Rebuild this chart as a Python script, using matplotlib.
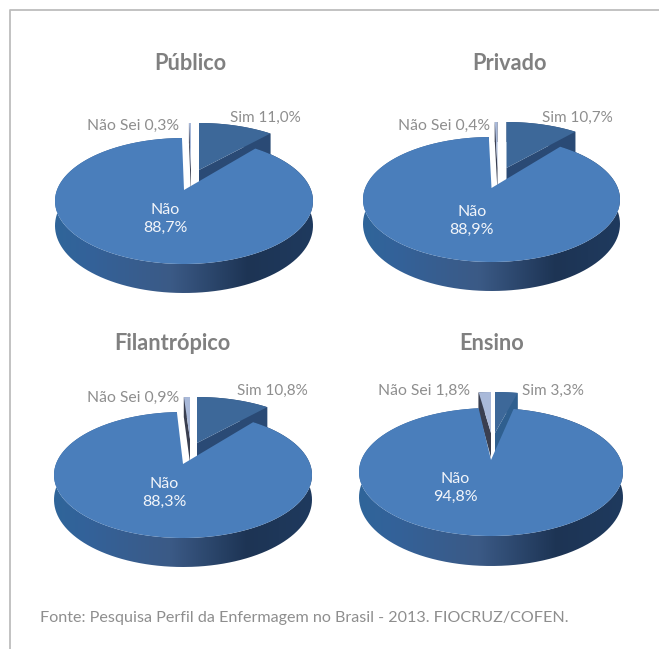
#!/usr/bin/env python
# -*- coding: utf-8 -*-
"""Quatro pizzas 3D: Público, Privado, Filantrópico, Ensino"""
import numpy as np
import matplotlib
matplotlib.use('Agg')
import matplotlib.pyplot as plt
from matplotlib.path import Path
from matplotlib.colors import LinearSegmentedColormap

plt.rcParams['font.family'] = ['Lato', 'DejaVu Sans']

W, H = 659, 649

titles = ['Público', 'Privado', 'Filantrópico', 'Ensino']
sim = [11.0, 10.7, 10.8, 3.3]
nao = [88.7, 88.9, 88.3, 94.8]
nao_sei = [0.3, 0.4, 0.9, 1.8]
footer = 'Fonte: Pesquisa Perfil da Enfermagem no Brasil - 2013. FIOCRUZ/COFEN.'

# geometria de cada pizza em pixels
center_x = [184, 491.5, 183, 491]
apex_y = [190, 188, 464, 460]
radius_x = [129, 128.5, 129, 132]
up = [52, 51, 52, 52]
down = [74, 74, 74, 76]
depth_front = [29, 29, 29, 30]

# deslocamento das fatias separadas: dx, dy no centro, dy na borda
sim_shift = [(15, -20, -15), (15, -20, -15), (14, -21, -15), (4, -27, -16)]
sei_shift = [(7, -20, -15), (6, -20, -15), (7, -25, -15), (0, -27, -16)]

title_pos = [(190, 63), (509, 63), (172, 343), (492, 343)]
sim_pos = [(265, 117.5), (577, 117.5), (272, 390.5), (553, 390.5)]
sei_pos = [(133, 125.5), (444, 125.5), (133, 397.5), (424, 390.5)]
nao_pos = [(165, 219), (472, 221), (164, 493), (455, 488)]

BLUE = '#4a7ebb'
SIM_TOP = '#3d6899'
sim_face = ['#2a4a75', '#2a4a75', '#2a4a75', '#2f5f8f']
SEI_TOP = '#a9b9d9'
SEI_FACE = '#3a3f50'
GRAY = '#808080'
LABEL = '#8e8e8e'

wall_cmap = LinearSegmentedColormap.from_list(
    'wall', [(0, '#2f6599'), (0.12, '#33629a'), (0.45, '#3b5a86'),
             (0.75, '#1d3454'), (1, '#1f3a5e')])


def pct(v):
    return f'{v:.1f}%'.replace('.', ',')


def project(i, theta, r=1.0, shift=None, bottom=False):
    """ângulo (graus, horário a partir do topo) -> pixels, com perspectiva"""
    p = (down[i] - up[i]) / (down[i] + up[i])
    ry = up[i] * (1 + p)
    rx = radius_x[i] * np.sqrt(1 - p ** 2)
    t = np.radians(theta)
    u = r * np.sin(t)
    v = r * np.cos(t)
    w = 1 + p * v
    x = center_x[i] + rx * u / w
    y = apex_y[i] - ry * v / w
    if shift is not None:
        x = x + shift[0]
        y = y + shift[1] + (shift[2] - shift[1]) * r
    if bottom:
        y = y + depth_front[i] * (1 - p) / w
    return np.column_stack([np.atleast_1d(x), np.atleast_1d(y)])


def top_outline(i, a, b, shift=None):
    arc = project(i, np.linspace(a, b, 200), 1.0, shift)
    return np.vstack([project(i, a, 0.0, shift), arc])


def draw_slice(ax, i, a, b, shift, top_color, face_color):
    # faces de corte e borda, depois o topo
    for edge in (a, b):
        rr = np.linspace(0, 1, 2)
        upper = np.vstack([project(i, edge, r, shift) for r in rr])
        lower = np.vstack([project(i, edge, r, shift, bottom=True) for r in rr])
        ax.fill(*np.vstack([upper, lower[::-1]]).T, color=face_color, lw=0)
    arc_t = np.linspace(a, b, 100)
    rim = np.vstack([project(i, arc_t, 1.0, shift),
                     project(i, arc_t[::-1], 1.0, shift, bottom=True)])
    ax.fill(*rim.T, color=face_color, lw=0)
    ax.fill(*top_outline(i, a, b, shift).T, color=top_color, lw=0)


def draw_main(ax, i, a, b):
    arc_t = np.linspace(a, b, 400)
    rim = np.vstack([project(i, arc_t, 1.0),
                     project(i, arc_t[::-1], 1.0, bottom=True)])
    x0 = center_x[i] - radius_x[i]
    x1 = center_x[i] + radius_x[i]
    grad = np.linspace(0, 1, 256).reshape(1, -1)
    im = ax.imshow(grad, cmap=wall_cmap, aspect='auto',
                   extent=(x0, x1, apex_y[i] + 120, apex_y[i] - 70), zorder=2)
    im.set_clip_path(Path(np.vstack([rim, rim[:1]])), ax.transData)
    ax.fill(*top_outline(i, a, b).T, color=BLUE, lw=0, zorder=3)


fig = plt.figure(figsize=(W / 100, H / 100), dpi=100)
ax = fig.add_axes([0, 0, 1, 1])

# moldura
ax.plot([659, 9.7, 9.7], [10, 10, 649], color='#bdbdbd', lw=1.3)

for i in range(4):
    total = sim[i] + nao[i] + nao_sei[i]
    sim_end = 360 * sim[i] / total
    sei_start = 360 - 360 * nao_sei[i] / total

    draw_slice(ax, i, sei_start, 360, sei_shift[i], SEI_TOP, SEI_FACE)
    draw_slice(ax, i, 0, sim_end, sim_shift[i], SIM_TOP, sim_face[i])
    draw_main(ax, i, sim_end, sei_start)

    ax.text(*title_pos[i], titles[i], ha='center', va='center', fontsize=15.7,
            fontweight='bold', color=GRAY)
    ax.text(*sim_pos[i], 'Sim ' + pct(sim[i]), ha='center', va='center',
            fontsize=11, color=LABEL)
    ax.text(*sei_pos[i], 'Não Sei ' + pct(nao_sei[i]), ha='center', va='center',
            fontsize=11.3, color=LABEL)
    ax.text(*nao_pos[i], 'Não\n' + pct(nao[i]), ha='center', va='center',
            fontsize=11.5, color='#f2f5fa', linespacing=1.42, zorder=5)

ax.text(40, 618, footer, ha='left', va='center', fontsize=11.6, color=LABEL)

ax.set_xlim(0, W)
ax.set_ylim(H, 0)
ax.axis('off')

plt.savefig('out.png', dpi=100)
plt.close()
